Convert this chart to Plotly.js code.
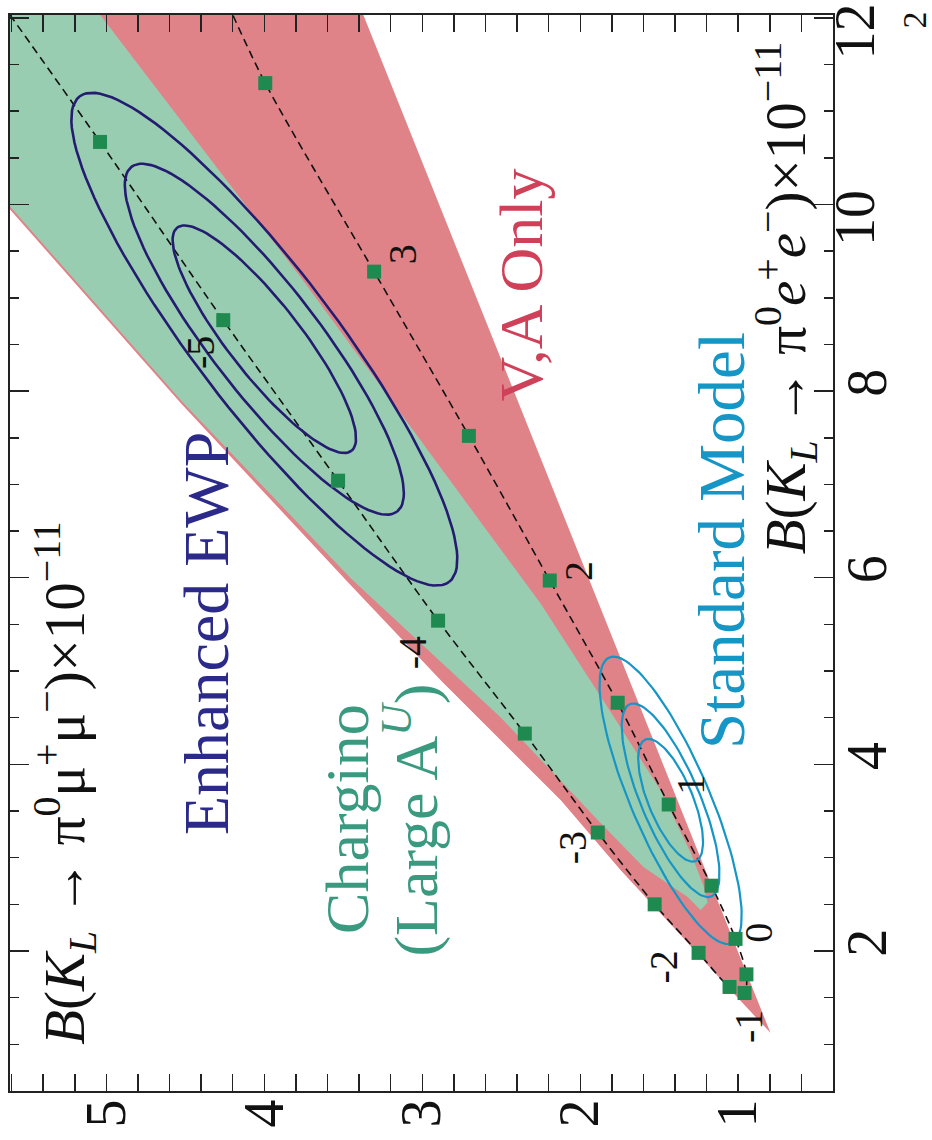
<!DOCTYPE html>
<html><head><meta charset="utf-8">
<script src="https://cdn.plot.ly/plotly-3.0.1.min.js"></script>
<style>html,body{margin:0;padding:0;background:#fff}#chart{width:932px;height:1140px}</style>
</head><body><div id="chart"></div><script>
// Values in units of 1e-11. mu = B(KL->pi0 mu+ mu-), ee = B(KL->pi0 e+ e-)
// Dashed prediction curve (ordered along the parameter)
const curveMu = [4.266, 3.994, 3.305, 2.705, 2.193, 1.763, 1.440, 1.169, 1.017, 0.948, 0.960, 1.055, 1.251, 1.529, 1.889, 2.351, 2.900, 3.533, 4.260, 5.040, 5.593, 5.726];
const curveEe = [12.28, 11.30, 9.28, 7.52, 5.97, 4.66, 3.57, 2.70, 2.13, 1.75, 1.55, 1.615, 1.98, 2.50, 3.27, 4.33, 5.54, 7.04, 8.76, 10.67, 11.99, 12.30];
// Square markers (half-integer parameter steps)
const pointMu = [3.994, 3.305, 2.705, 2.193, 1.763, 1.440, 1.169, 1.017, 0.948, 0.960, 1.055, 1.251, 1.529, 1.889, 2.351, 2.900, 3.533, 4.260, 5.040];
const pointEe = [11.30, 9.28, 7.52, 5.97, 4.66, 3.57, 2.70, 2.13, 1.75, 1.55, 1.615, 1.98, 2.50, 3.27, 4.33, 5.54, 7.04, 8.76, 10.67];
// Parameter labels along the curve
const paramLabels = ['3', '2', '1', '0', '-1', '-2', '-3', '-4', '-5'];
const paramMu = [3.12, 2.01, 1.30, 0.872, 0.935, 1.472, 2.047, 3.06, 4.40];
const paramEe = [9.47, 6.07, 3.78, 2.20, 1.19, 1.83, 3.11, 5.20, 8.41];
// "V,A Only" band
const pinkMu = [5.726, 3.432, 0.796, 1.049, 1.365, 1.744, 2.123, 2.503, 2.882, 3.450, 4.524, 5.593, 5.726];
const pinkEe = [12.28, 12.28, 1.123, 1.583, 2.171, 2.866, 3.615, 4.257, 4.898, 5.914, 7.861, 9.914, 10.16];
// Chargino (large A^U) band
const greenMu = [5.726, 5.151, 3.765, 2.819, 2.250, 1.807, 1.491, 1.300, 1.220, 1.194, 1.238, 1.320, 1.598, 1.870, 2.503, 3.450, 4.524, 5.593, 5.726];
const greenEe = [12.28, 12.28, 9.209, 7.030, 5.720, 4.560, 3.720, 3.050, 2.700, 2.520, 2.440, 2.578, 2.898, 3.369, 4.503, 5.989, 7.893, 9.947, 10.20];
// Confidence ellipses: centre [mu, ee], semi-axis vectors [dmu, dee]
const ewpCenter = [4.00, 8.556];
const ewpMajor = [[-0.552, -1.195], [-0.841, -1.847], [-1.170, -2.601]];
const ewpMinor = [[0.180, -0.240], [0.270, -0.352], [0.352, -0.458]];
const smCenter = [1.428, 3.615];
const smMajor = [[-0.159, -0.651], [-0.258, -1.030], [-0.388, -1.531]];
const smMinor = [[0.130, -0.091], [0.171, -0.122], [0.228, -0.165]];
const xTicks = [1, 2, 3, 4, 5];
const xTickText = ['1', '2', '3', '4', '5'];
const yTicks = [2, 4, 6, 8, 10, 12];
const yTickText = ['2', '4', '6', '8', '', ''];
const yTicks2 = [10, 12];
const yTickText2 = ['10', '12'];

const FONT = 'Liberation Serif, Times New Roman, serif';
const PINK = '#df8389', GREEN = '#99cdb1', SQ = '#1e8a4f', NAVY = '#241c70', SMC = '#1596c6';

function ellipse(c, maj, mn) {
  const xs = [], ys = [];
  for (let i = 0; i <= 120; i++) {
    const t = 2 * Math.PI * i / 120;
    xs.push(c[0] + maj[0] * Math.cos(t) + mn[0] * Math.sin(t));
    ys.push(c[1] + maj[1] * Math.cos(t) + mn[1] * Math.sin(t));
  }
  return {xs, ys};
}

const traces = [];
traces.push({x: pinkMu, y: pinkEe, type: 'scatter', mode: 'lines', fill: 'toself', fillcolor: PINK, line: {width: 0, color: PINK}, hoverinfo: 'skip'});
traces.push({x: greenMu, y: greenEe, type: 'scatter', mode: 'lines', fill: 'toself', fillcolor: GREEN, line: {width: 0, color: GREEN}, hoverinfo: 'skip'});
traces.push({x: curveMu, y: curveEe, type: 'scatter', mode: 'lines', line: {color: '#111', width: 1.6, dash: '8px,5px', shape: 'spline', smoothing: 0.8}, hoverinfo: 'skip'});
for (let k = 0; k < 3; k++) {
  const e = ellipse(ewpCenter, ewpMajor[k], ewpMinor[k]);
  traces.push({x: e.xs, y: e.ys, type: 'scatter', mode: 'lines', line: {color: NAVY, width: 2.6}, hoverinfo: 'skip'});
  const s = ellipse(smCenter, smMajor[k], smMinor[k]);
  traces.push({x: s.xs, y: s.ys, type: 'scatter', mode: 'lines', line: {color: SMC, width: 2.2}, hoverinfo: 'skip'});
}
traces.push({x: pointMu, y: pointEe, type: 'scatter', mode: 'markers', marker: {symbol: 'square', size: 14, color: SQ}, hoverinfo: 'skip'});
// empty trace so the overlaying label axis is drawn
traces.push({x: [], y: [], type: 'scatter', mode: 'markers', yaxis: 'y2', hoverinfo: 'skip', showlegend: false});

const ann = [];
function txt(text, x, y, size, color, extra) {
  ann.push(Object.assign({text, x, y, xref: 'x', yref: 'y', showarrow: false, textangle: -90,
    xanchor: 'center', yanchor: 'middle', font: {family: FONT, size, color}}, extra || {}));
}
for (let i = 0; i < paramLabels.length; i++) txt(paramLabels[i], paramMu[i], paramEe[i], 40, '#111');
txt('Enhanced EWP', 4.367, 5.40, 64, '#2b2a8a');
txt('Chargino', 3.48, 3.42, 62, '#3a9a80');
txt('(Large A<sup><i>U</i></sup>)', 3.07, 3.40, 62, '#3a9a80');
txt('V,A Only', 2.376, 9.14, 62, '#cf4159');
txt('Standard Model', 1.099, 6.40, 65, SMC);
txt('<i>B</i>(<i>K<sub>L</sub></i> → π<sup>0</sup>μ<sup>+</sup>μ<sup>−</sup>)×10<sup>−11</sup>', 5.27, 3.80, 57, '#111');
txt('<i>B</i>(<i>K<sub>L</sub></i> → π<sup>0</sup><i>e</i><sup>+</sup><i>e</i><sup>−</sup>)×10<sup>−11</sup>', 0.70, 9.00, 57, '#111');
ann.push({text: '2', xref: 'paper', yref: 'paper', x: 1.099, y: 0.9954, showarrow: false, textangle: -90,
  xanchor: 'center', yanchor: 'middle', font: {family: FONT, size: 34, color: '#111'}});

const axisCommon = {
  showgrid: false, zeroline: false, showline: true, linecolor: '#222', linewidth: 2,
  mirror: 'allticks', ticks: 'inside', tickcolor: '#222', tickwidth: 1.5, ticklabeloverflow: 'allow',
  tickangle: -90, tickfont: {family: FONT, size: 56, color: '#111'}, fixedrange: true
};
const layout = {
  width: 932, height: 1140,
  margin: {l: 10, r: 99, t: 15, b: 49, pad: 0},
  paper_bgcolor: '#fff', plot_bgcolor: '#fff', showlegend: false,
  font: {family: FONT, color: '#111'},
  xaxis: Object.assign({}, axisCommon, {range: [5.61, 0.40], tickmode: 'array', tickvals: xTicks, ticktext: xTickText, ticklen: 17,
    ticklabelstandoff: -16,
    minor: {tickmode: 'linear', tick0: 0, dtick: 0.2, ticks: 'inside', ticklen: 10, tickwidth: 1.5, tickcolor: '#222'}}),
  yaxis: Object.assign({}, axisCommon, {range: [0.5, 12.03], side: 'right', tickmode: 'array', tickvals: yTicks, ticktext: yTickText, ticklen: 19,
    ticklabelstandoff: -16,
    minor: {tickmode: 'linear', tick0: 0, dtick: 0.5, ticks: 'inside', ticklen: 9, tickwidth: 1.5, tickcolor: '#222'}}),
  yaxis2: {overlaying: 'y', side: 'right', range: [0.5, 12.03], tickmode: 'array', tickvals: yTicks2, ticktext: yTickText2,
    showgrid: false, zeroline: false, showline: false, ticks: '', tickangle: -90, ticklabelstandoff: -16,
    ticklabelshift: 22, ticklabeloverflow: 'allow', tickfont: {family: FONT, size: 56, color: '#111'}, fixedrange: true},
  annotations: ann
};
Plotly.newPlot('chart', traces, layout, {staticPlot: true, displayModeBar: false});
</script></body></html>
